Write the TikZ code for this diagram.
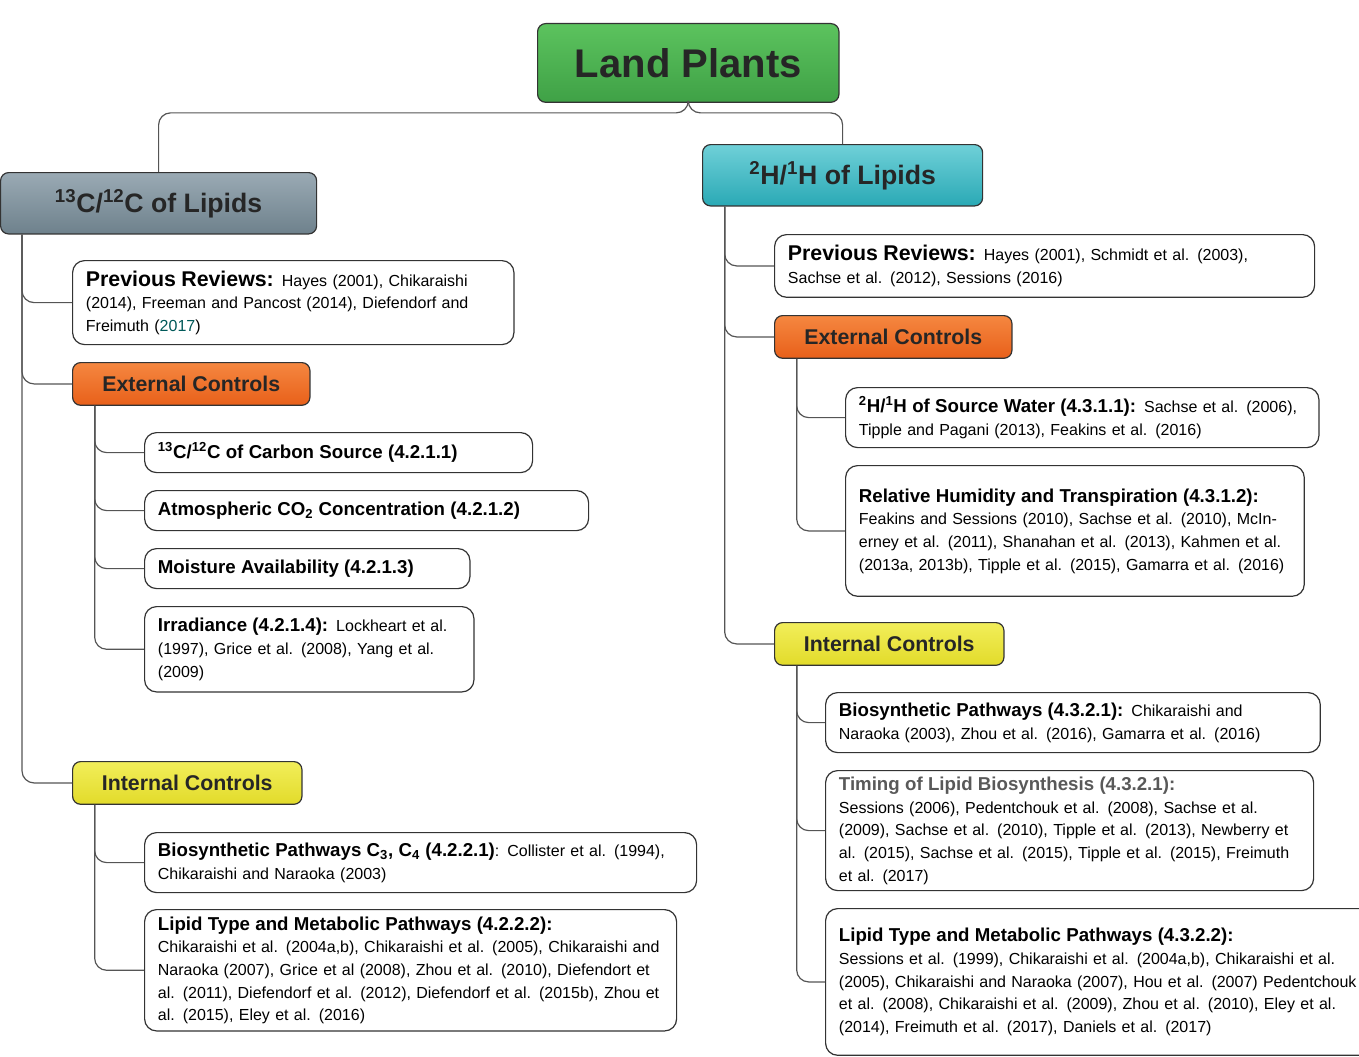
\documentclass[tikz,border=0pt]{standalone}
\usepackage{fontspec}
\setmainfont{Liberation Sans}
\usetikzlibrary{positioning}
\definecolor{linegray}{HTML}{555555}
\newcommand{\subh}{\fontsize{14}{17}\selectfont\bfseries}
\newcommand{\revh}{\fontsize{16}{19}\selectfont\bfseries}

\begin{document}
\begin{tikzpicture}[x=0.75pt,y=-0.75pt,
  conn/.style={draw=linegray,line width=0.9pt,rounded corners=9pt},
  head/.style={draw=black!80,line width=0.9pt,rounded corners=6pt,anchor=north west,align=center,text=black!85,font=\bfseries},
  leaf/.style={draw=black!80,line width=0.9pt,rounded corners=9pt,fill=white,anchor=north west,align=left,inner xsep=10pt,inner ysep=3pt,font=\fontsize{12}{17}\selectfont},
  big/.style={font=\fontsize{16}{17}\selectfont\bfseries}]
\useasboundingbox (0,0) rectangle (1359,1056);

% top levels
\node[head,top color={rgb,255:red,92;green,195;blue,94},bottom color={rgb,255:red,63;green,161;blue,70},
  minimum width=226pt,minimum height=59pt,font=\fontsize{30}{32}\selectfont\bfseries] (land) at (537,23) {Land Plants};
\node[head,top color={rgb,255:red,154;green,170;blue,180},bottom color={rgb,255:red,110;green,129;blue,140},
  minimum width=237pt,minimum height=46pt,font=\fontsize{20}{22}\selectfont\bfseries] (c13) at (0,172) {\textsuperscript{13}C/\textsuperscript{12}C of Lipids};
\node[head,top color={rgb,255:red,111;green,208;blue,216},bottom color={rgb,255:red,42;green,169;blue,181},
  minimum width=210pt,minimum height=46pt,font=\fontsize{20}{22}\selectfont\bfseries] (h2) at (702,144) {\textsuperscript{2}H/\textsuperscript{1}H of Lipids};

% left branch
\node[leaf,text width=311pt,minimum height=63pt] (lrev) at (72,260)
  {{\revh Previous Reviews:} Hayes (2001), Chikaraishi (2014), Freeman and Pancost (2014), Diefendorf and Freimuth ({\color{teal!70!black}2017})};
\node[head,top color={rgb,255:red,245;green,135;blue,64},bottom color={rgb,255:red,232;green,96;blue,26},
  minimum width=178pt,minimum height=32pt,big] (lext) at (72,362) {External Controls};
\node[leaf,text width=271pt,minimum height=30pt] (lsrc) at (144,432) {{\subh\textsuperscript{13}C/\textsuperscript{12}C of Carbon Source (4.2.1.1)}};
\node[leaf,text width=313pt,minimum height=30pt] (latm) at (144,490) {{\subh Atmospheric CO\textsubscript{2} Concentration (4.2.1.2)}};
\node[leaf,text width=224pt,minimum height=30pt] (lmoi) at (144,548) {{\subh Moisture Availability (4.2.1.3)}};
\node[leaf,text width=227pt,minimum height=64pt] (lirr) at (144,606)
  {{\subh Irradiance (4.2.1.4):} Lockheart et al. (1997), Grice et al. (2008), Yang et al. (2009)};
\node[head,top color={rgb,255:red,242;green,238;blue,90},bottom color={rgb,255:red,226;green,219;blue,42},
  minimum width=172pt,minimum height=32pt,big] (lint) at (72,761) {Internal Controls};
\node[leaf,text width=394pt,minimum height=45pt] (lbio) at (144,832)
  {{\subh Biosynthetic Pathways C\textsubscript{3}, C\textsubscript{4} (4.2.2.1)}: Collister et al. (1994), Chikaraishi and Naraoka (2003)};
\node[leaf,text width=379pt,minimum height=91pt] (llip) at (144,909)
  {{\subh Lipid Type and Metabolic Pathways (4.2.2.2):}\\ Chikaraishi et al. (2004a,b), Chikaraishi et al. (2005), Chikaraishi and Naraoka (2007), Grice et al (2008), Zhou et al. (2010), Diefendort et al. (2011), Diefendorf et al. (2012), Diefendorf et al. (2015b), Zhou et al. (2015), Eley et al. (2016)};

% right branch
\node[leaf,text width=385pt,minimum height=47pt] (rrev) at (774,234)
  {{\revh Previous Reviews:} Hayes (2001), Schmidt et al. (2003), Sachse et al. (2012), Sessions (2016)};
\node[head,top color={rgb,255:red,245;green,135;blue,64},bottom color={rgb,255:red,232;green,96;blue,26},
  minimum width=178pt,minimum height=32pt,big] (rext) at (774,315) {External Controls};
\node[leaf,text width=335pt,minimum height=45pt] (rsw) at (845,387)
  {{\subh\textsuperscript{2}H/\textsuperscript{1}H of Source Water (4.3.1.1):} Sachse et al. (2006), Tipple and Pagani (2013), Feakins et al. (2016)};
\node[leaf,text width=324pt,minimum height=98pt] (rrh) at (845,465)
  {{\subh Relative Humidity and Transpiration (4.3.1.2):} Feakins and Sessions (2010), Sachse et al. (2010), McInerney et al. (2011), Shanahan et al. (2013), Kahmen et al. (2013a, 2013b), Tipple et al. (2015), Gamarra et al. (2016)};
\node[head,top color={rgb,255:red,242;green,238;blue,90},bottom color={rgb,255:red,226;green,219;blue,42},
  minimum width=172pt,minimum height=32pt,big] (rint) at (774,622) {Internal Controls};
\node[leaf,text width=351pt,minimum height=45pt] (rbio) at (825,692)
  {{\subh Biosynthetic Pathways (4.3.2.1):} Chikaraishi and Naraoka (2003), Zhou et al. (2016), Gamarra et al. (2016)};
\node[leaf,text width=346pt,minimum height=90pt] (rtim) at (825,770)
  {{\subh\color{black!65}Timing of Lipid Biosynthesis (4.3.2.1):}\\ Sessions (2006), Pedentchouk et al. (2008), Sachse et al. (2009), Sachse et al. (2010), Tipple et al. (2013), Newberry et al. (2015), Sachse et al. (2015), Tipple et al. (2015), Freimuth et al. (2017)};
\node[leaf,text width=389pt,minimum height=110pt] (rlip) at (825,908)
  {{\subh Lipid Type and Metabolic Pathways (4.3.2.2):}\\ Sessions et al. (1999), Chikaraishi et al. (2004a,b), Chikaraishi et al. (2005), Chikaraishi and Naraoka (2007), Hou et al. (2007) Pedentchouk et al. (2008), Chikaraishi et al. (2009), Zhou et al. (2010), Eley et al. (2014), Freimuth et al. (2017), Daniels et al. (2017)};

% connectors
\draw[conn] (land.south) -- ++(0,10) -| (c13.north);
\draw[conn] (land.south) -- ++(0,10) -| (h2.north);
\foreach \n in {lrev,lext,lint} \draw[conn] ([xshift=16.5pt]c13.south west) |- (\n.west);
\foreach \n in {lsrc,latm,lmoi,lirr} \draw[conn] ([xshift=17pt]lext.south west) |- (\n.west);
\foreach \n in {lbio,llip} \draw[conn] ([xshift=17pt]lint.south west) |- (\n.west);
\foreach \n in {rrev,rext,rint} \draw[conn] ([xshift=17pt]h2.south west) |- (\n.west);
\foreach \n in {rsw,rrh} \draw[conn] ([xshift=17pt]rext.south west) |- (\n.west);
\foreach \n in {rbio,rtim,rlip} \draw[conn] ([xshift=17pt]rint.south west) |- (\n.west);
\end{tikzpicture}
\end{document}
